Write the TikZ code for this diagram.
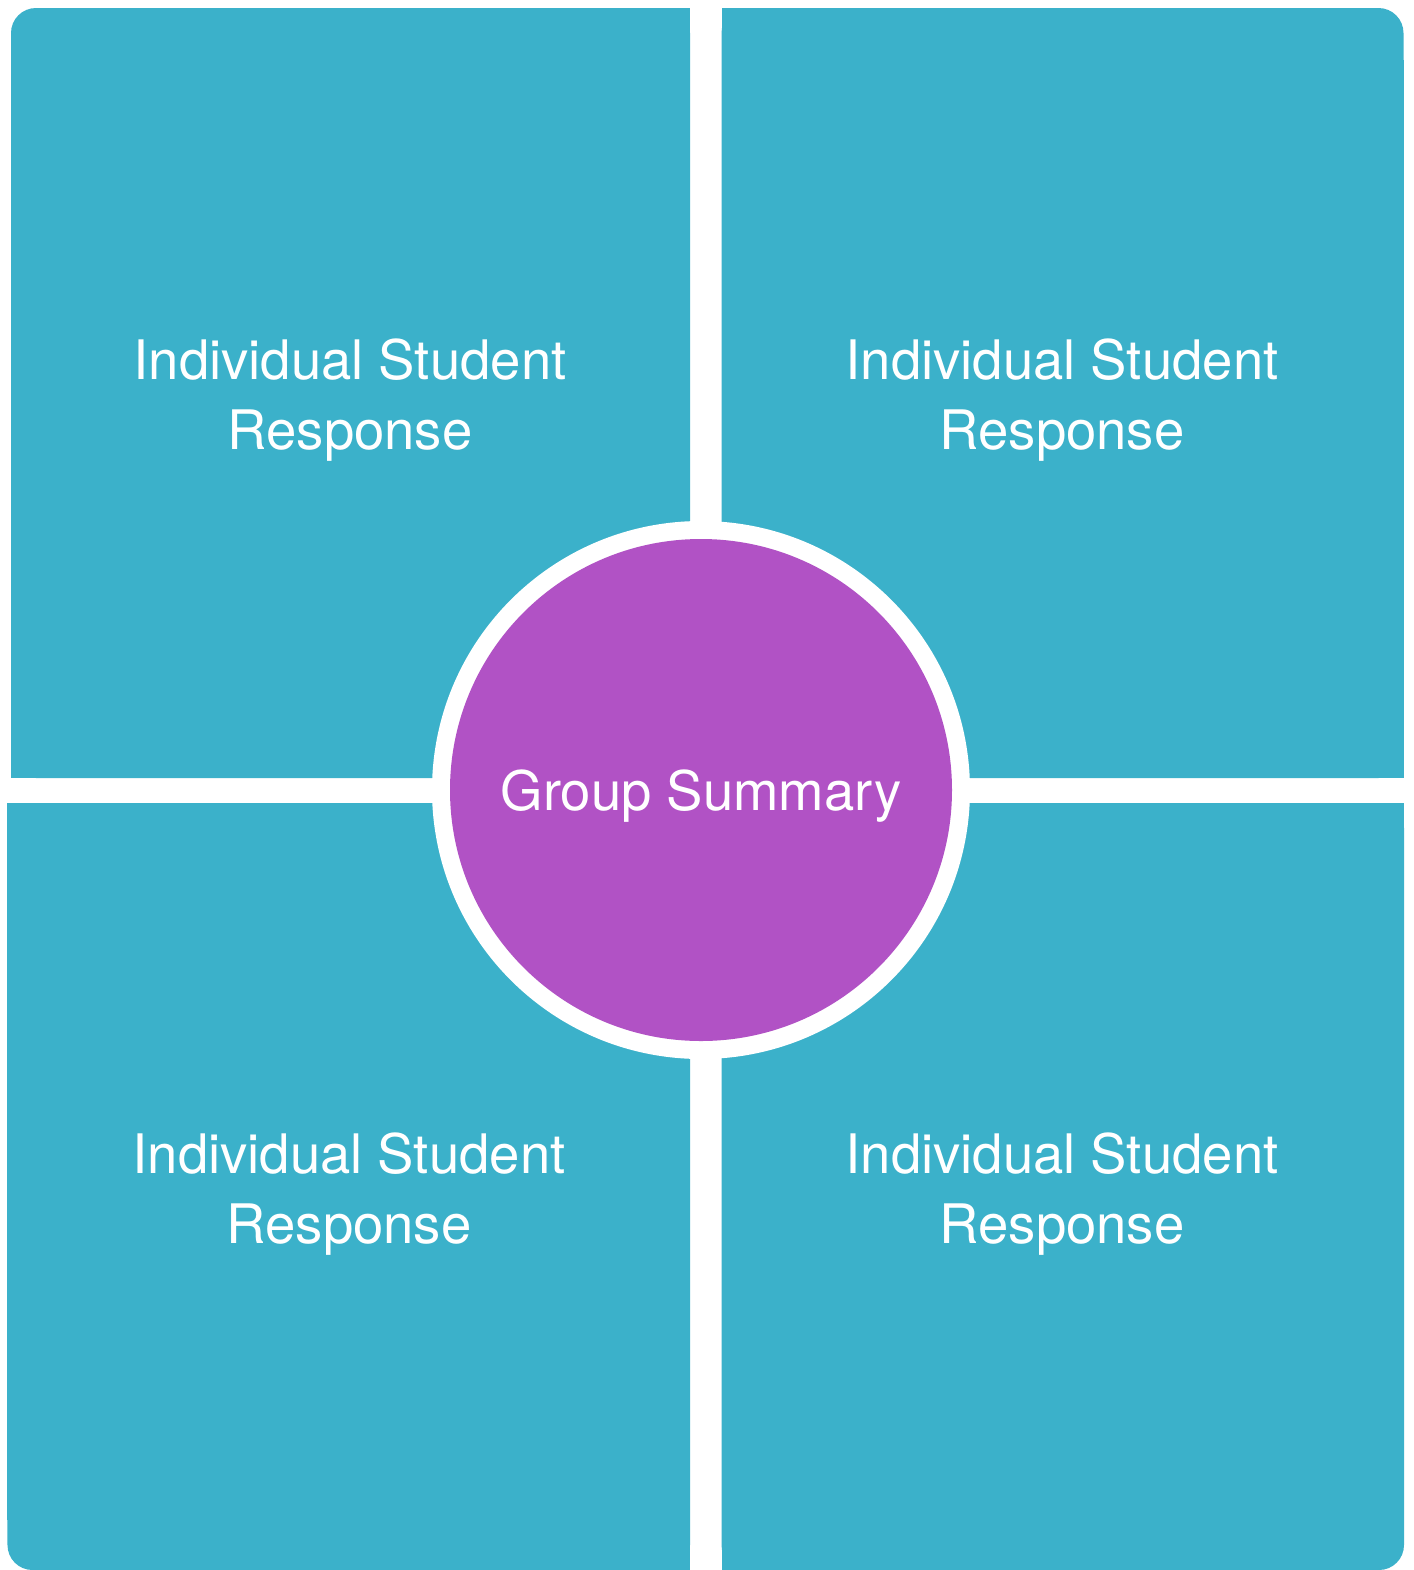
\documentclass[tikz,border=0pt]{standalone}
\usepackage{fontspec}
\setmainfont{TeX Gyre Heros}
\usepackage{tikz}
\definecolor{quadteal}{HTML}{3BB1CA}
\definecolor{hubpurple}{HTML}{B152C5}
\tikzset{
	quad/.style={fill=quadteal},
	quadtext/.style={text=white, align=center, font=\fontsize{15.5}{19.9}\selectfont},
}

\begin{document}
\begin{tikzpicture}
		%%%%% START %%%%%
		\useasboundingbox (0, 0) rectangle (14.13, -15.70);
		
		% top left
		\fill[quad, rounded corners=0.25cm] (0.11, -7.78) rectangle (6.90, -0.08);
		\fill[quad] (0.6, -7.78) rectangle (6.90, -0.08);
		\fill[quad] (0.11, -7.78) rectangle (6.90, -0.6);
		
		% top right
		\fill[quad, rounded corners=0.25cm] (7.215, -7.78) rectangle (14.035, -0.08);
		\fill[quad] (7.215, -7.78) rectangle (13.5, -0.08);
		\fill[quad] (7.215, -7.78) rectangle (14.035, -0.6);
		
		% bottom left
		\fill[quad, rounded corners=0.25cm] (0.075, -15.70) rectangle (6.90, -8.03);
		\fill[quad] (0.6, -15.70) rectangle (6.90, -8.03);
		\fill[quad] (0.075, -15.2) rectangle (6.90, -8.03);
		
		% bottom right
		\fill[quad, rounded corners=0.25cm] (7.215, -15.70) rectangle (14.04, -8.03);
		\fill[quad] (7.215, -15.70) rectangle (13.5, -8.03);
		\fill[quad] (7.215, -15.2) rectangle (14.04, -8.03);
		
		% hub
		\fill[white] (7.01, -7.90) circle (2.69);
		\fill[hubpurple] (7.01, -7.90) circle (2.51);
		
		\node[quadtext] (tl) at (3.50, -4.00) {Individual Student\\Response};
		\node[quadtext] (tr) at (10.62, -4.00) {Individual Student\\Response};
		\node[quadtext] (bl) at (3.49, -11.94) {Individual Student\\Response};
		\node[quadtext] (br) at (10.62, -11.94) {Individual Student\\Response};
		\node[quadtext] (hub) at (7.01, -7.96) {Group Summary};
		%%%%% END %%%%%
	\end{tikzpicture}
\end{document}
